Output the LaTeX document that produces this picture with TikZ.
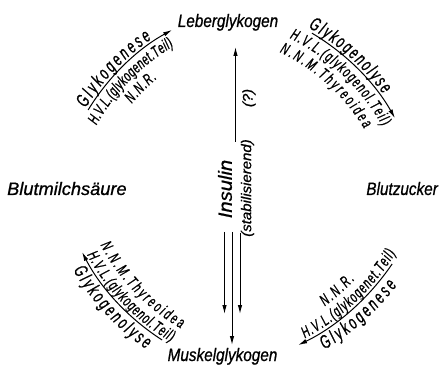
\documentclass[tikz,border=0pt]{standalone}
\usepackage{fontspec}
\setmainfont{Liberation Sans}
\newfontfamily\dfont[FakeStretch=0.85,FakeBold=0.8]{Liberation Sans}
\newfontfamily\nfont[FakeStretch=0.62,FakeBold=0.8]{Liberation Sans}
\usetikzlibrary{arrows.meta,decorations.text}
\tikzset{
  lbl/.style={font=\dfont\itshape\fontsize{18}{20}\selectfont, inner sep=0pt},
  arr/.style={line width=1pt, -{Latex[length=9pt,width=4.5pt]}},
}
% center, start angle, end angle, radius, font size, text
\newcommand{\arctxt}[6]{{\nfont\itshape\fontsize{#5}{#5}\selectfont
  \path[decorate,decoration={text along path,text align={fit to path},text={#6}}] ([shift={(#2:#4)}]#1) arc[start angle=#2,end angle=#3,radius=#4];}}
\begin{document}
\begin{tikzpicture}[x=1pt,y=1pt]
\useasboundingbox (0,0) rectangle (443,369);
% main labels
\node[lbl, anchor=base] (leber) at (228,342) {Leberglykogen};
\node[lbl, anchor=base] (muskel) at (222.5,8) {Muskelglykogen};
\node[lbl, anchor=base west] (milch) at (7,174) {\scalebox{1.19}[1]{Blutmilchsäure}};
\node[lbl, anchor=base east] (zucker) at (438,174) {Blutzucker};
% central arrows
\coordinate (upA) at (235.5,227);
\coordinate (upB) at (235.5,322);
\draw[arr] (upA) -- (upB);
\coordinate (dlA) at (224.5,137); \coordinate (dlB) at (224.5,55);
\coordinate (dmA) at (232,137);   \coordinate (dmB) at (232,24);
\coordinate (drA) at (240,136);   \coordinate (drB) at (240,55);
\draw[arr] (dlA) -- (dlB);
\draw[arr] (dmA) -- (dmB);
\draw[arr] (drA) -- (drB);
\node[lbl, rotate=90, font=\dfont\itshape\fontsize{14}{14}\selectfont] (q) at (249,271) {\scalebox{1.25}[1]{(?)}};
\node[lbl, rotate=90, font=\dfont\itshape\fontsize{19}{19}\selectfont] (ins) at (225,180) {\scalebox{1.25}[1]{Insulin}};
\node[lbl, rotate=90, font=\dfont\itshape\fontsize{14}{14}\selectfont] (stab) at (247.5,181) {\scalebox{1.26}[1]{(stabilisierend)}};
% arc centres
\coordinate (cUL) at (279.4,142.3);
\coordinate (cUR) at (194.8,138.5);
\coordinate (cLL) at (286.2,222.3);
\coordinate (cLR) at (193.8,239.8);
% curved arrows
\draw[arr] ([shift={(148.6:224.1)}]cUL) arc[start angle=148.6,end angle=118.6,radius=224.1];
\draw[arr] ([shift={(59.3:229.5)}]cUR) arc[start angle=59.3,end angle=29.3,radius=229.5];
\draw[arr] ([shift={(237.3:229.7)}]cLL) arc[start angle=237.3,end angle=207.3,radius=229.7];
\draw[arr] ([shift={(-34.2:239.8)}]cLR) arc[start angle=-34.2,end angle=-64.2,radius=239.8];
% upper left texts
\arctxt{cUL}{148.5}{124.2}{227.1}{19}{Glykogenese}
\arctxt{cUL}{151.0}{120.3}{209.1}{16}{H.V.L.(glykogenet.Teil)}
\arctxt{cUL}{140.2}{129.5}{192.1}{16}{N.N.R.}
% upper right texts
\arctxt{cUR}{60.8}{35.9}{232.5}{19}{Glykogenolyse}
\arctxt{cUR}{63.8}{29.0}{214.5}{16}{H.V.L.(glykogenol.Teil)}
\arctxt{cUR}{64.6}{31.0}{197.5}{16}{N.N.M.Thyreoidea}
% lower left texts
\arctxt{cLL}{207.9}{239.9}{210.2}{16}{N.N.M.Thyreoidea}
\arctxt{cLL}{208.5}{239.5}{226.7}{16}{H.V.L.(glykogenol.Teil)}
\arctxt{cLL}{210.1}{235.3}{246.2}{19}{Glykogenolyse}
% lower right texts
\arctxt{cLR}{-53.5}{-43}{220.3}{16}{N.N.R.}
\arctxt{cLR}{-62}{-31.5}{236.8}{16}{H.V.L.(glykogenet.Teil)}
\arctxt{cLR}{-59.3}{-37.5}{256.3}{19}{Glykogenese}
\end{tikzpicture}
\end{document}
